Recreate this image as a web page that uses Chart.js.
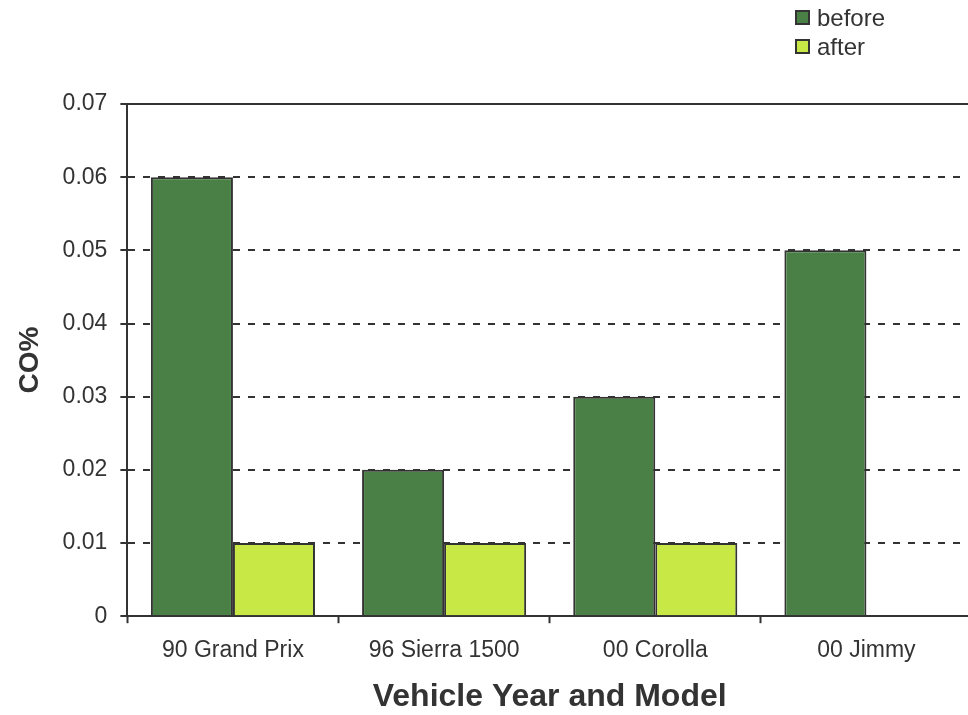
<!DOCTYPE html>
<html>
<head>
<meta charset="utf-8">
<script src="https://cdn.jsdelivr.net/npm/chart.js@4/dist/chart.umd.min.js"></script>
<style>
    html, body { margin: 0; padding: 0; overflow: hidden; background: #fff; }
    #wrap { position: relative; width: 990px; height: 715px; }
    #legend { position: absolute; left: 795px; top: 3px; font-family: 'Liberation Sans', Arial, sans-serif; font-size: 24px; color: #333; }
    #legend div { display: flex; align-items: center; height: 29px; }
    #legend span.box { width: 11px; height: 11px; border: 2px solid #333; margin-right: 7px; display: inline-block; }
</style>
</head>
<body>
<div id="wrap">
    <canvas id="chart" width="990" height="715"></canvas>
    <div id="legend"></div>
</div>
<script>
const categories = ['90 Grand Prix', '96 Sierra 1500', '00 Corolla', '00 Jimmy'];
const beforeValues = [0.06, 0.02, 0.03, 0.05];
const afterValues = [0.01, 0.01, 0.01, 0];
const yTicks = [0, 0.01, 0.02, 0.03, 0.04, 0.05, 0.06, 0.07];

const chart = document.getElementById('chart');
const ink = '#333333';
const font = 'Liberation Sans, Arial, sans-serif';

// solid frame line along the top of the plot
const topFrame = {
    id: 'topFrame',
    beforeDatasetsDraw(c) {
        const { ctx, chartArea } = c;
        const y = c.scales.y.getPixelForValue(yTicks[yTicks.length - 1]);
        ctx.save();
        ctx.strokeStyle = ink;
        ctx.lineWidth = 2;
        ctx.beginPath();
        ctx.moveTo(chartArea.left, y);
        ctx.lineTo(chartArea.right + 20, y);
        ctx.stroke();
        ctx.restore();
    }
};

const myChart = new Chart(chart, {
    type: 'bar',
    data: {
        labels: categories,
        datasets: [{
            label: 'before',
            data: beforeValues,
            backgroundColor: '#4a8045',
            borderColor: ink,
            borderWidth: 2,
            categoryPercentage: 0.777,
            barPercentage: 1
        }, {
            label: 'after',
            data: afterValues,
            backgroundColor: '#c8e845',
            borderColor: ink,
            borderWidth: 2,
            categoryPercentage: 0.777,
            barPercentage: 1
        }]
    },
    options: {
        responsive: false,
        animation: false,
        layout: { padding: { left: 3, top: 104, right: 18, bottom: 0 } },
        plugins: {
            legend: { display: false },
            tooltip: { enabled: false }
        },
        scales: {
            x: {
                offset: true,
                grid: { offset: true, drawOnChartArea: false, drawTicks: true, tickLength: 7, tickColor: ink, tickWidth: 2 },
                border: { color: ink, width: 2 },
                ticks: { color: ink, padding: 14, font: { family: font, size: 23 } },
                title: {
                    display: true,
                    text: 'Vehicle Year and Model',
                    color: ink,
                    font: { family: font, size: 32, weight: 'bold', lineHeight: 1.1 },
                    padding: { top: 1, bottom: 0 }
                }
            },
            y: {
                min: 0,
                max: 0.07,
                afterBuildTicks: (axis) => { axis.ticks = yTicks.map(v => ({ value: v })); },
                grid: {
                    color: (ctx) => (ctx.tick && (ctx.tick.value === 0 || ctx.tick.value === 0.07)) ? 'rgba(0,0,0,0)' : ink,
                    lineWidth: 2,
                    tickLength: 7,
                    tickColor: ink,
                    tickWidth: 2
                },
                border: { color: ink, width: 2, dash: [7, 8] },
                ticks: {
                    color: ink,
                    padding: 13,
                    font: { family: font, size: 23 },
                    callback: (v) => v === 0 ? '0' : v.toFixed(2)
                },
                title: {
                    display: true,
                    text: 'CO%',
                    color: ink,
                    font: { family: font, size: 28, weight: 'bold', lineHeight: 1.2 },
                    padding: { top: 10, bottom: 3 }
                }
            }
        }
    },
    plugins: [topFrame]
});

const legend = document.getElementById('legend');
myChart.data.datasets.forEach((ds) => {
    const row = document.createElement('div');
    const box = document.createElement('span');
    box.className = 'box';
    box.style.background = ds.backgroundColor;
    row.appendChild(box);
    row.appendChild(document.createTextNode(ds.label));
    legend.appendChild(row);
});
</script>
</body>
</html>
